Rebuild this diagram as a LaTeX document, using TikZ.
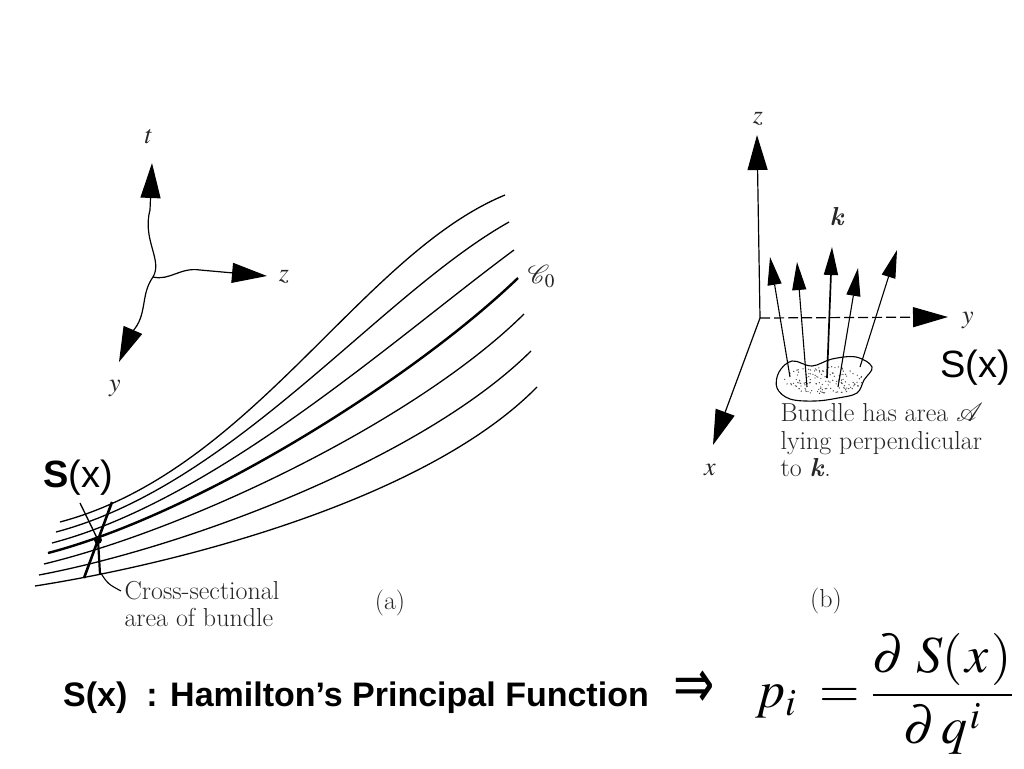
\documentclass[tikz,border=0pt]{standalone}
\usepackage{amsmath}
\usepackage{mathptmx}
\usepackage{fontspec}
\renewcommand\rmdefault{lmr}
\newfontfamily\arialfont{Liberation Sans}
\newfontfamily\dejavufont{DejaVu Sans}
\usetikzlibrary{arrows.meta,calc}

\begin{document}
\begin{tikzpicture}[x=1pt,y=-1pt,
    bigtip/.style={-{Triangle[length=35pt,width=20pt]},line width=1.2pt},
    raytip/.style={-{Triangle[length=28pt,width=14pt]},line width=1.1pt},
    scanlabel/.style={font=\fontsize{26}{27.5}\selectfont,text=black!85,align=left},
    axislabel/.style={font=\fontsize{26}{30}\selectfont,text=black!85},
    sxlabel/.style={font=\fontsize{38}{42}\selectfont\arialfont},]
    \useasboundingbox (0,0) rectangle (1024,768);

    \foreach \ax/\ay/\bx/\by/\cx/\cy/\ex/\ey/\lw in {60/522/252/471/360/255/505/195/1.3, 56/532/234/485/378/296/509/222/1.3, 52/543/216/500/395/338/514/250/1.3, 48/553/198/514/413/379/518/278/2.4, 44/564/193/528/418/419/524/314/1.3, 39/575/187/547/422/459/531/351/1.3, 35/586/182/563/427/499/537/387/1.3}
        \draw[line width=\lw pt] (\ax,\ay) .. controls (\bx,\by) and (\cx,\cy) .. (\ex,\ey);
    \node[axislabel,anchor=west] at (524,277) (curveC) {$\mathcal{C}_0$};

    \coordinate (knot) at (98,540);
    \draw[line width=2.6pt] (112,502) -- (84,578);
    \draw[line width=1.3pt] (80,503) -- (knot);
    \draw[line width=2.2pt] (knot) -- (100,574);
    \fill (knot) circle (4);
    \node[scanlabel,anchor=west] at (121,604) (crosstext) {Cross-sectional\\area of bundle};
    \draw[line width=1.1pt] (100,572) .. controls (108,584) .. (crosstext.west |- 0,591);
    \node[sxlabel] at (78,478) (sxa) {\textbf{S}(x)};
    \node[scanlabel] at (390,603) (capa) {(a)};

    \coordinate (origa) at (153,277);
    \node[axislabel] at (149,137) (labt) {$t$};
    \node[axislabel] at (284,277) (labz) {$z$};
    \node[axislabel] at (115,388) (laby) {$y$};
    \draw[bigtip] (origa) .. controls (163,260) and (142,240) .. (150,210) -- (152,163);
    \draw[bigtip] (origa) .. controls (170,281) and (180,267) .. (200,270) -- (267,276);
    \draw[bigtip] (origa) .. controls (140,295) and (148,315) .. (132,332) -- (119,362);

    \coordinate (origb) at (760,318);
    \node[axislabel] at (758,119) (labzb) {$z$};
    \node[axislabel] at (968,320) (labyb) {$y$};
    \node[axislabel] at (710,470) (labxb) {$x$};
    \node[axislabel] at (837,217) (labk) {\textbf{\textit{k}}};
    \draw[bigtip] (origb) -- (757,135);
    \draw[bigtip,dash pattern=on 10pt off 4pt] (origb) -- (948,317);
    \draw[bigtip] (origb) -- (713,445);

    \draw[line width=1.1pt,fill=white] plot[smooth cycle,tension=0.6] coordinates {(779,372) (792,361) (812,366) (832,359) (856,357) (872,367) (864,380) (857,393) (838,398) (815,401) (790,399) (777,388)};
    \pgfmathsetseed{7}
    \foreach \i in {1,...,140}{
        \pgfmathsetmacro\ang{360*rnd}
        \pgfmathsetmacro\rr{sqrt(rnd)}
        \fill[black!70] ({824+40*\rr*cos(\ang)},{380+14*\rr*sin(\ang)}) circle (0.7);
    }
    \foreach \bx/\by/\tx/\ty/\lw in {790/377/770/257/1.1, 807/387/797/262/1.1, 827/378/832/247/1.7, 838/387/858/268/1.1, 860/367/897/250/1.1}
        \draw[raytip,line width=\lw pt] (\bx,\by) -- (\tx,\ty);
    \node[sxlabel] at (975,368) (sxb) {S(x)};
    \node[scanlabel,anchor=north west] at (777,400) (bundletext) {Bundle has area $\mathcal{A}$\\lying perpendicular\\to \textbf{\textit{k}}.};
    \node[scanlabel] at (826,601) (capb) {(b)};

    \node[font=\fontsize{34}{40}\selectfont\arialfont\bfseries,anchor=base west,inner sep=0] at (63,706) (hamilton) {S(x)\ \ : Hamilton’s Principal Function};
    \node[font=\fontsize{34}{40}\selectfont\dejavufont,inner sep=0] at (694,690) (implies) {\scalebox{1.45}[2.1]{⇒}};
    \node[font=\fontsize{52}{58}\selectfont,anchor=west,inner sep=0] at (755,694) (momentum) {$p_i\; = \dfrac{\partial\;S(\mkern1mu x\mkern1mu)}{\partial\, q^{\mkern1mu i}}$};
\end{tikzpicture}
\end{document}
